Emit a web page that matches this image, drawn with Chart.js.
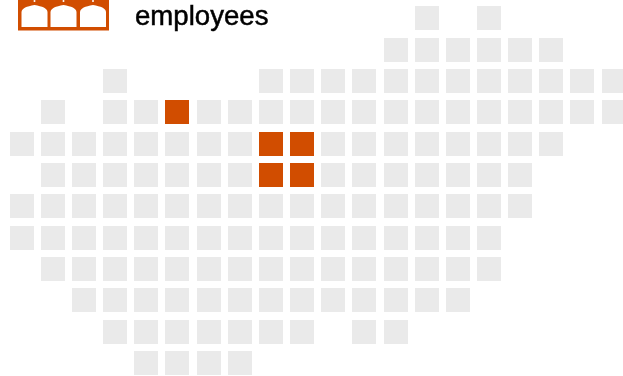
<!DOCTYPE html>
<html>
<head>
<meta charset="utf-8">
<style>html,body{margin:0;padding:0;background:#fff}canvas{display:block}</style>
<script src="https://cdn.jsdelivr.net/npm/chart.js@4"></script>
</head>
<body>
<canvas id="grid" width="623" height="376"></canvas>
<script>
// Occupied columns of each row in the tile grid, top row first.
const row0 = [13, 15];
const row1 = [12, 13, 14, 15, 16, 17];
const row2 = [3, 8, 9, 10, 11, 12, 13, 14, 15, 16, 17, 18, 19];
const row3 = [1, 3, 4, 6, 7, 8, 9, 10, 11, 12, 13, 14, 15, 16, 17, 18, 19];
const row4 = [0, 1, 2, 3, 4, 5, 6, 7, 10, 11, 12, 13, 14, 15, 16, 17];
const row5 = [1, 2, 3, 4, 5, 6, 7, 10, 11, 12, 13, 14, 15, 16];
const row6 = [0, 1, 2, 3, 4, 5, 6, 7, 8, 9, 10, 11, 12, 13, 14, 15, 16];
const row7 = [0, 1, 2, 3, 4, 5, 6, 7, 8, 9, 10, 11, 12, 13, 14, 15];
const row8 = [1, 2, 3, 4, 5, 6, 7, 8, 9, 10, 11, 12, 13, 14, 15];
const row9 = [2, 3, 4, 5, 6, 7, 8, 9, 10, 11, 12, 13, 14];
const row10 = [3, 4, 5, 6, 7, 8, 9, 11, 12];
const row11 = [4, 5, 6, 7];
const rows = [row0, row1, row2, row3, row4, row5, row6, row7, row8, row9, row10, row11];

// Highlighted tiles as [column, row].
const highlighted = [[5, 3], [8, 4], [9, 4], [8, 5], [9, 5]];

const label = 'employees';
const grey = '#eaeaea';
const orange = '#d14d00';

const greyPoints = rows.flatMap((cols, r) => cols.map(c => ({ x: c, y: r })));
const orangePoints = highlighted.map(([c, r]) => ({ x: c, y: r }));

// Linear scale snapping to whole pixels so the tiles keep crisp edges.
class SnapScale extends Chart.LinearScale {
  static id = 'snap';
  static defaults = Chart.LinearScale.defaults;
  getPixelForValue(v) { return Math.round(super.getPixelForValue(v)); }
}
Chart.register(SnapScale);

// Arcade icon and caption above the grid.
const header = {
  id: 'header',
  afterDraw(chart) {
    const ctx = chart.ctx;
    ctx.save();
    // Solid block with three arched openings cut out of it.
    ctx.fillStyle = orange;
    ctx.fillRect(18, 0, 91, 30.5);
    ctx.fillStyle = '#fff';
    [[21.5, 47.5], [50.5, 76.5], [80, 106]].forEach(([l, r]) => {
      const m = (l + r) / 2;
      ctx.beginPath();
      ctx.moveTo(l, 27);
      ctx.lineTo(l, 12);
      ctx.bezierCurveTo(l + 0.5, 8, m - 8, 6.5, m, 5);
      ctx.bezierCurveTo(m + 8, 6.5, r - 0.5, 8, r, 12);
      ctx.lineTo(r, 27);
      ctx.closePath();
      ctx.fill();
      // Small notch on the keystone.
      ctx.beginPath();
      ctx.arc(m, 1, 1, 0, Math.PI * 2);
      ctx.fill();
    });
    ctx.fillStyle = '#000';
    ctx.strokeStyle = '#000';
    ctx.lineWidth = 0.5;
    ctx.font = '27.6px "Liberation Sans", Arial, sans-serif';
    ctx.textBaseline = 'alphabetic';
    ctx.fillText(label, 135, 25);
    ctx.strokeText(label, 135, 25);
    ctx.restore();
  }
};

new Chart(document.getElementById('grid'), {
  type: 'scatter',
  data: {
    datasets: [
      { data: greyPoints, backgroundColor: grey },
      { data: orangePoints, backgroundColor: orange }
    ]
  },
  plugins: [header],
  options: {
    responsive: false,
    animation: false,
    layout: { padding: 0, autoPadding: false },
    elements: { point: { pointStyle: 'rect', radius: 16.97, borderWidth: 0, hoverRadius: 16.97 } },
    plugins: { legend: { display: false }, tooltip: { enabled: false }, title: { display: false } },
    scales: {
      x: { type: 'snap', display: false, min: -21.7 / 31.15, max: (623 - 21.7) / 31.15 },
      y: { type: 'snap', display: false, reverse: true, min: -18.3 / 31.32, max: (376 - 18.3) / 31.32 }
    }
  }
});
</script>
</body>
</html>
